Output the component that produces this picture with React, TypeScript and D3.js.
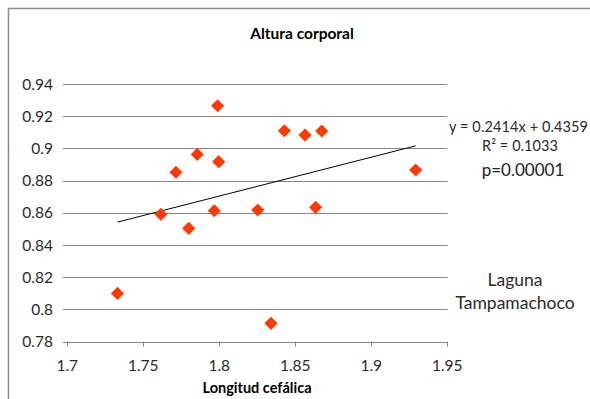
import React from "react";
import * as d3 from "d3";

const xValues = [1.733, 1.7616, 1.7715, 1.7799, 1.7855, 1.7989, 1.7967, 1.7996, 1.8253, 1.834, 1.8428, 1.8564, 1.8674, 1.8634, 1.9292];
const yValues = [0.81, 0.8591, 0.8852, 0.8504, 0.8963, 0.9265, 0.8613, 0.8918, 0.8618, 0.7914, 0.911, 0.9083, 0.9108, 0.8634, 0.8866];
const xTicks = [1.7, 1.75, 1.8, 1.85, 1.9, 1.95];
const yTicks = [0.78, 0.8, 0.82, 0.84, 0.86, 0.88, 0.9, 0.92, 0.94];
const slope = 0.2414;
const intercept = 0.4359;
const title = "Altura corporal";
const xLabel = "Longitud cefálica";
const equationText = "y = 0.2414x + 0.4359";
const r2Text = "R² = 0.1033";
const pText = "p=0.00001";
const siteLines = ["Laguna", "Tampamachoco"];

const W = 590;
const H = 399;
const FONT = "Lato, 'Open Sans', sans-serif";

export default function App() {
  const x = d3.scaleLinear().domain([1.7, 1.95]).range([67.3, 447.3]);
  const y = d3.scaleLinear().domain([0.78, 0.94]).range([341.7, 84]);
  const xMin = d3.min(xValues) as number;
  const xMax = d3.max(xValues) as number;
  const trend = d3
    .line<number>()
    .x((d) => x(d))
    .y((d) => y(slope * d + intercept));
  const diamond = d3.symbol().type(d3.symbolDiamond2).size(110)();
  const gridX0 = x(1.7) - 4.5;
  const gridX1 = x(1.95);

  return (
    <svg
      width={W}
      height={H}
      style={{ position: "absolute", left: 0, top: 0, background: "#fff" }}
    >
      <rect x={8.5} y={8.5} width={W + 20} height={H + 20} fill="#fff" stroke="#8c8c8c" strokeWidth={1.5} />
      <text x={302} y={39} textAnchor="middle" fontFamily={FONT} fontWeight="bold" fontSize={15.5} fill="#000">
        {title}
      </text>
      {yTicks.map((t) => (
        <g key={t}>
          <line x1={gridX0} x2={gridX1} y1={Math.round(y(t)) + 0.5} y2={Math.round(y(t)) + 0.5} stroke="#868686" strokeWidth={1} />
          <text x={53} y={y(t) + 5.5} textAnchor="end" fontFamily={FONT} fontSize={15.5} fill="#2a2a2a">
            {String(t)}
          </text>
        </g>
      ))}
      {xTicks.map((t) => (
        <g key={t}>
          <line x1={Math.round(x(t)) + 0.5} x2={Math.round(x(t)) + 0.5} y1={y(0.78)} y2={y(0.78) + 5} stroke="#868686" strokeWidth={1} />
          <text x={x(t)} y={371} textAnchor="middle" fontFamily={FONT} fontSize={15.5} fill="#2a2a2a">
            {String(t)}
          </text>
        </g>
      ))}
      <path d={trend([xMin, xMax]) || ""} fill="none" stroke="#000" strokeWidth={1} />
      {xValues.map((xv, i) => (
        <path key={i} d={diamond || ""} transform={`translate(${x(xv)},${y(yValues[i])})`} fill="#ff3a00" />
      ))}
      <text x={257} y={393} textAnchor="middle" fontFamily={FONT} fontWeight="bold" fontSize={14.5} fill="#000">
        {xLabel}
      </text>
      <text x={449} y={132} fontFamily={FONT} fontSize={14.5} fill="#2a2a2a" textLength={139} lengthAdjust="spacing">
        {equationText}
      </text>
      <text x={520} y={151} textAnchor="middle" fontFamily={FONT} fontSize={14.5} fill="#2a2a2a" textLength={76} lengthAdjust="spacing">
        {r2Text}
      </text>
      <text x={523} y={176} textAnchor="middle" fontFamily={FONT} fontSize={17} fill="#222">
        {pText}
      </text>
      {siteLines.map((s, i) => (
        <text key={s} x={515} y={286 + i * 23} textAnchor="middle" fontFamily={FONT} fontSize={17.5} fill="#2a2a2a">
          {s}
        </text>
      ))}
    </svg>
  );
}
